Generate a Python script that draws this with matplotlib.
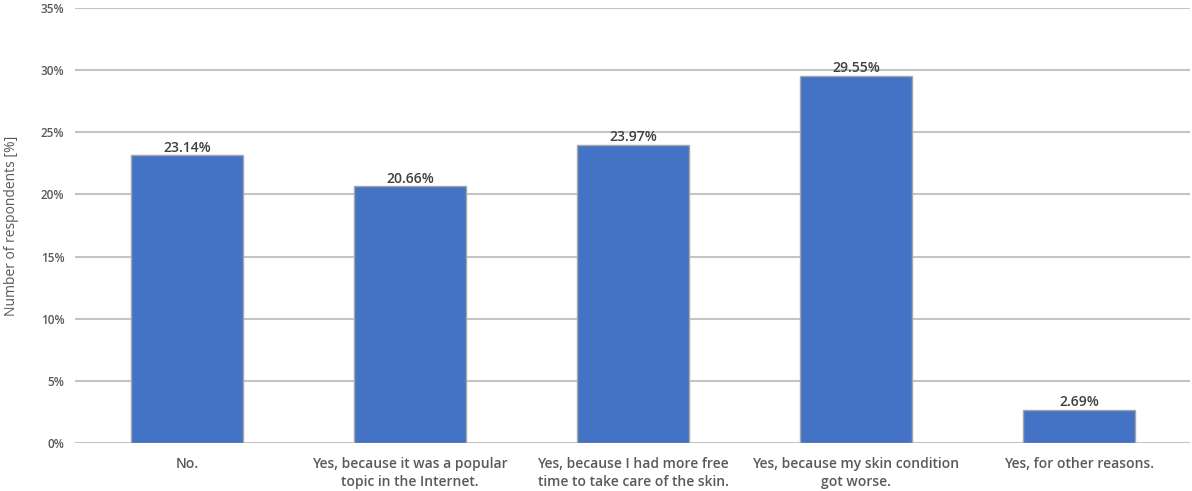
import matplotlib
matplotlib.use('Agg')
import matplotlib.pyplot as plt
import numpy as np

# survey answers and share of respondents
categories = ['No.',
              'Yes, because it was a popular\ntopic in the Internet.',
              'Yes, because I had more free\ntime to take care of the skin.',
              'Yes, because my skin condition\ngot worse.',
              'Yes, for other reasons.']
values = [23.14, 20.66, 23.97, 29.55, 2.69]
yticks = [0, 5, 10, 15, 20, 25, 30, 35]

plt.rcParams['font.family'] = ['Open Sans', 'DejaVu Sans']

fig = plt.figure(figsize=(11.92, 4.91), dpi=100)
ax = fig.add_axes([0.0633, 0.0978, 0.9354, 0.886])

x = np.arange(len(categories))
bars = ax.bar(x, values, width=0.5, color='#4472C4', edgecolor='#A6A6A6',
              linewidth=1.0, zorder=3)

for b, v in zip(bars, values):
    ax.text(b.get_x() + b.get_width() / 2, v + 0.05, '%.2f%%' % v,
            ha='center', va='bottom', fontsize=10, fontweight='semibold',
            color='#404040', zorder=4)

ax.set_xlim(-0.5, len(categories) - 0.5)
ax.set_ylim(0, 35)
ax.set_yticks(yticks)
ax.set_yticklabels(['%d%%' % t for t in yticks], fontsize=8.5,
                   fontweight='semibold', color='#595959')
ax.set_xticks(x)
ax.set_xticklabels(categories, fontsize=10, fontweight='semibold',
                   color='#595959', linespacing=1.4)
ax.tick_params(axis='both', length=0)
ax.tick_params(axis='x', pad=10)
ax.tick_params(axis='y', pad=8)
ax.grid(axis='y', color='#C4C4C4', linewidth=1.5, zorder=0)
for s in ax.spines.values():
    s.set_visible(False)

ax.set_ylabel('Number of respondents [%]', fontsize=10, color='#595959')
ax.yaxis.set_label_coords(-0.0507, 0.5)

fig.savefig('out.png', dpi=100)
